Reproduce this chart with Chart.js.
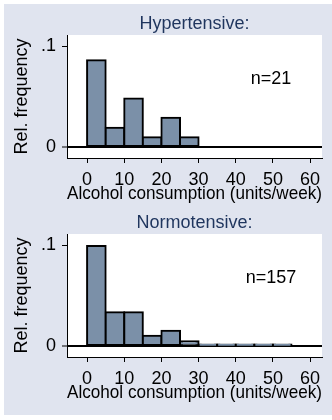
<!DOCTYPE html>
<html>
<head>
<meta charset="utf-8">
<script src="https://cdn.jsdelivr.net/npm/chart.js@4"></script>
<style>
  body { margin: 0; background: #fff; }
  #frame { position: absolute; left: 4px; top: 4px; width: 328px; height: 411px; background: #e0e4ef; }
  canvas { position: absolute; left: 0; }
  #top { top: 0; }
  #bottom { top: 199px; }
</style>
</head>
<body>
<div id="frame"></div>
<canvas id="top" width="332" height="210"></canvas>
<canvas id="bottom" width="332" height="210"></canvas>
<script>
// left edges of the 5-unit bins
const binStarts = [0, 5, 10, 15, 20, 25, 30, 35, 40, 45, 50];
const binWidth = 5;

const hyperFreq = [0.086, 0.019, 0.048, 0.0095, 0.029, 0.0095];
const normoFreq = [0.099, 0.0335, 0.0335, 0.010, 0.015, 0.0045, 0.0013, 0.0013, 0.0013, 0.0013, 0.0013];

const xTicks = [0, 10, 20, 30, 40, 50, 60];
const yTicks = [0, 0.1];
const yTickLabels = ['0', '.1'];

Chart.defaults.font.family = '"Liberation Sans", Arial, sans-serif';
Chart.defaults.font.size = 18;
Chart.defaults.color = '#000';

const panelText = {
  id: 'panelText',
  beforeDraw(chart) {
    const { ctx, chartArea: a } = chart;
    ctx.save();
    ctx.fillStyle = '#fff';
    ctx.fillRect(a.left, a.top, a.right - a.left, a.bottom - a.top);
    ctx.restore();
  },
  afterDraw(chart, args, opts) {
    const { ctx, chartArea: a } = chart;
    ctx.save();
    ctx.font = '18px "Liberation Sans", Arial, sans-serif';
    ctx.textAlign = 'center';
    ctx.textBaseline = 'alphabetic';
    ctx.fillStyle = '#1f355e';
    ctx.fillText(opts.title, (a.left + a.right) / 2, a.top - 6);
    ctx.fillStyle = '#000';
    ctx.fillText(opts.n, chart.scales.x.getPixelForValue(49.5), chart.scales.y.getPixelForValue(0.0623));
    ctx.restore();
  }
};

function drawPanel(id, title, freqs, n) {
  new Chart(document.getElementById(id), {
    type: 'bar',
    data: {
      datasets: [{
        data: freqs.map((v, i) => ({ x: binStarts[i] + binWidth / 2, y: v })),
        backgroundColor: '#7b90a8',
        borderColor: '#000',
        borderWidth: 2,
        borderSkipped: false,
        inflateAmount: 1,
        barPercentage: 1,
        categoryPercentage: 1
      }]
    },
    options: {
      responsive: false,
      animation: false,
      layout: { padding: { top: 35, right: 10, bottom: 0, left: 0 } },
      plugins: {
        legend: { display: false },
        tooltip: { enabled: false },
        panelText: { title: title, n: n }
      },
      scales: {
        x: {
          type: 'linear',
          offset: false,
          min: -5.4,
          max: 63.2,
          afterBuildTicks: s => { s.ticks = xTicks.map(v => ({ value: v })); },
          afterFit: s => { s.height = 52; },
          ticks: { autoSkip: false, maxRotation: 0, padding: 6 },
          grid: { offset: false, drawOnChartArea: false, tickLength: 5, tickColor: '#000', tickWidth: 1 },
          border: { display: true, color: '#000', width: 1 },
          title: { display: true, text: 'Alcohol consumption (units/week)', font: { size: 19 }, padding: { top: 0, bottom: 5 } }
        },
        y: {
          min: -0.011,
          max: 0.111,
          afterBuildTicks: s => { s.ticks = yTicks.map(v => ({ value: v })); },
          afterFit: s => { s.width = 67; },
          ticks: { padding: 6, callback: (v, i) => yTickLabels[i] },
          grid: {
            color: c => (c.tick && c.tick.value === 0) ? '#000' : 'rgba(0,0,0,0)',
            lineWidth: c => (c.tick && c.tick.value === 0) ? 2 : 1,
            tickLength: 5, tickColor: '#000', tickWidth: 1
          },
          border: { display: true, color: '#000', width: 1 },
          title: { display: true, text: 'Rel. frequency', padding: { top: 11, bottom: 0 } }
        }
      }
    },
    plugins: [panelText]
  });
}

drawPanel('top', 'Hypertensive:', hyperFreq, 'n=21');
drawPanel('bottom', 'Normotensive:', normoFreq, 'n=157');
</script>
</body>
</html>
